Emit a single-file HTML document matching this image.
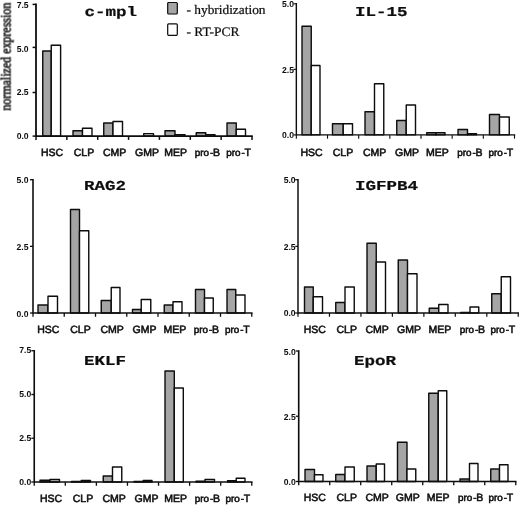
<!DOCTYPE html><html><head><meta charset="utf-8"><title>Figure</title>
<style>html,body{margin:0;padding:0;background:#fff}svg{display:block}text{text-rendering:geometricPrecision}.cat{font-family:"Liberation Sans",sans-serif;font-size:10.5px;fill:#0c0c0c;stroke:#0c0c0c;stroke-width:.55px}.tk{font-family:"Liberation Sans",sans-serif;font-size:8.6px;font-weight:bold;fill:#0c0c0c;text-anchor:end}.ti{font-family:"Liberation Mono",monospace;font-weight:bold;font-size:13.7px;fill:#0c0c0c;stroke:#0c0c0c;stroke-width:.2px}.lg{font-family:"Liberation Serif",serif;font-size:13px;fill:#0c0c0c;stroke:#0c0c0c;stroke-width:.22px}.ax{stroke:#0c0c0c;stroke-width:1.8;fill:none}.t{stroke:#0c0c0c;stroke-width:1.5;fill:none}.b{stroke:#0c0c0c;stroke-width:1.4;stroke-linejoin:round}</style></head><body>
<svg width="520" height="505" viewBox="0 0 520 505">
<defs><filter id="s" x="0" y="0" width="100%" height="100%" filterUnits="userSpaceOnUse"><feGaussianBlur stdDeviation="0.4"/></filter></defs>
<rect width="520" height="505" fill="#fff"/>
<g filter="url(#s)">
<g>
<rect class="b" x="42.75" y="51.00" width="8.50" height="85.10" fill="#a5a5a5"/>
<rect class="b" x="51.25" y="45.25" width="9.35" height="90.85" fill="#fff"/>
<rect class="b" x="73.00" y="130.75" width="9.50" height="5.35" fill="#a5a5a5"/>
<rect class="b" x="82.50" y="128.25" width="9.50" height="7.85" fill="#fff"/>
<rect class="b" x="103.75" y="123.00" width="9.25" height="13.10" fill="#a5a5a5"/>
<rect class="b" x="113.00" y="121.50" width="9.50" height="14.60" fill="#fff"/>
<rect class="b" x="143.75" y="133.60" width="9.75" height="2.50" fill="#cfcfcf"/>
<rect class="b" x="165.00" y="130.75" width="10.00" height="5.35" fill="#a5a5a5"/>
<rect class="b" x="175.00" y="134.60" width="10.00" height="1.50" fill="#cfcfcf"/>
<rect class="b" x="196.25" y="132.75" width="9.50" height="3.35" fill="#a5a5a5"/>
<rect class="b" x="205.75" y="134.60" width="9.25" height="1.50" fill="#cfcfcf"/>
<rect class="b" x="227.00" y="123.00" width="9.25" height="13.10" fill="#a5a5a5"/>
<rect class="b" x="236.25" y="129.25" width="9.25" height="6.85" fill="#fff"/>
<path class="ax" style="stroke-width:1.8" d="M36.00 3.60 V136.10 H252.75"/>
<path class="t" style="stroke-width:1.5" d="M32.60 4.40 H36.00"/>
<text class="tk" x="28.60" y="8.40">7.5</text>
<path class="t" style="stroke-width:1.5" d="M32.60 47.40 H36.00"/>
<text class="tk" x="28.60" y="51.50">5.0</text>
<path class="t" style="stroke-width:1.5" d="M32.60 92.50 H36.00"/>
<text class="tk" x="28.60" y="95.30">2.5</text>
<path class="t" style="stroke-width:1.5" d="M32.60 136.10 H36.00"/>
<text class="tk" x="28.60" y="138.70">0.0</text>
<path class="t" style="stroke-width:1.5" d="M36.00 136.10 V139.90"/>
<path class="t" style="stroke-width:1.5" d="M66.86 136.10 V139.90"/>
<path class="t" style="stroke-width:1.5" d="M97.71 136.10 V139.90"/>
<path class="t" style="stroke-width:1.5" d="M128.57 136.10 V139.90"/>
<path class="t" style="stroke-width:1.5" d="M159.43 136.10 V139.90"/>
<path class="t" style="stroke-width:1.5" d="M190.29 136.10 V139.90"/>
<path class="t" style="stroke-width:1.5" d="M221.14 136.10 V139.90"/>
<path class="t" style="stroke-width:1.5" d="M252.00 136.10 V139.90"/>
<text class="cat" x="40.95" y="155.50">HSC</text>
<text class="cat" x="73.75" y="155.50">CLP</text>
<text class="cat" x="102.99" y="155.50">CMP</text>
<text class="cat" x="135.05" y="155.50">GMP</text>
<text class="cat" x="164.24" y="155.50">MEP</text>
<text class="cat" x="194.80" y="155.50"><tspan font-size="9.9">pro</tspan><tspan font-size="9.9" dx="0.8">-</tspan><tspan dx="-0.3">B</tspan></text>
<text class="cat" x="226.30" y="155.50"><tspan font-size="9.9">pro</tspan><tspan font-size="9.9" dx="0.8">-</tspan><tspan dx="-0.3">T</tspan></text>
<text class="ti" x="84.60" y="15.60" textLength="52.5" lengthAdjust="spacingAndGlyphs">c-mpl</text>
</g>
<g>
<rect class="b" x="302.00" y="26.25" width="9.25" height="108.65" fill="#a5a5a5"/>
<rect class="b" x="311.25" y="65.50" width="8.75" height="69.40" fill="#fff"/>
<rect class="b" x="332.50" y="123.75" width="10.75" height="11.15" fill="#a5a5a5"/>
<rect class="b" x="343.25" y="123.75" width="9.25" height="11.15" fill="#fff"/>
<rect class="b" x="365.00" y="111.75" width="9.50" height="23.15" fill="#a5a5a5"/>
<rect class="b" x="374.50" y="83.75" width="9.25" height="51.15" fill="#fff"/>
<rect class="b" x="396.75" y="120.50" width="9.50" height="14.40" fill="#a5a5a5"/>
<rect class="b" x="406.25" y="105.00" width="9.25" height="29.90" fill="#fff"/>
<rect class="b" x="426.75" y="132.75" width="9.25" height="2.15" fill="#a5a5a5"/>
<rect class="b" x="436.00" y="132.75" width="9.00" height="2.15" fill="#cfcfcf"/>
<rect class="b" x="458.00" y="129.50" width="9.50" height="5.40" fill="#a5a5a5"/>
<rect class="b" x="467.50" y="133.75" width="9.00" height="1.15" fill="#cfcfcf"/>
<rect class="b" x="489.50" y="114.50" width="10.00" height="20.40" fill="#a5a5a5"/>
<rect class="b" x="499.50" y="117.00" width="9.75" height="17.90" fill="#fff"/>
<path class="ax" style="stroke-width:1.4" d="M296.35 3.10 V134.90 H515.25"/>
<path class="t" style="stroke-width:1.0999999999999999" d="M293.45 3.80 H296.35"/>
<text class="tk" x="294.00" y="7.40">5.0</text>
<path class="t" style="stroke-width:1.0999999999999999" d="M293.45 69.35 H296.35"/>
<text class="tk" x="294.00" y="73.05">2.5</text>
<path class="t" style="stroke-width:1.0999999999999999" d="M293.45 134.90 H296.35"/>
<text class="tk" x="294.00" y="138.00">0.0</text>
<path class="t" style="stroke-width:1.0999999999999999" d="M296.35 134.90 V138.70"/>
<path class="t" style="stroke-width:1.0999999999999999" d="M327.51 134.90 V138.70"/>
<path class="t" style="stroke-width:1.0999999999999999" d="M358.68 134.90 V138.70"/>
<path class="t" style="stroke-width:1.0999999999999999" d="M389.84 134.90 V138.70"/>
<path class="t" style="stroke-width:1.0999999999999999" d="M421.01 134.90 V138.70"/>
<path class="t" style="stroke-width:1.0999999999999999" d="M452.17 134.90 V138.70"/>
<path class="t" style="stroke-width:1.0999999999999999" d="M483.34 134.90 V138.70"/>
<path class="t" style="stroke-width:1.0999999999999999" d="M514.50 134.90 V138.70"/>
<text class="cat" x="300.45" y="155.70">HSC</text>
<text class="cat" x="332.75" y="155.70">CLP</text>
<text class="cat" x="362.99" y="155.70">CMP</text>
<text class="cat" x="395.05" y="155.70">GMP</text>
<text class="cat" x="425.99" y="155.70">MEP</text>
<text class="cat" x="457.30" y="155.70"><tspan font-size="9.9">pro</tspan><tspan font-size="9.9" dx="0.8">-</tspan><tspan dx="-0.3">B</tspan></text>
<text class="cat" x="488.55" y="155.70"><tspan font-size="9.9">pro</tspan><tspan font-size="9.9" dx="0.8">-</tspan><tspan dx="-0.3">T</tspan></text>
<text class="ti" x="355.00" y="16.20" textLength="52.5" lengthAdjust="spacingAndGlyphs">IL-15</text>
</g>
<g>
<rect class="b" x="38.00" y="305.00" width="10.00" height="8.00" fill="#a5a5a5"/>
<rect class="b" x="48.00" y="296.25" width="9.50" height="16.75" fill="#fff"/>
<rect class="b" x="70.50" y="209.50" width="9.00" height="103.50" fill="#a5a5a5"/>
<rect class="b" x="79.50" y="230.75" width="9.25" height="82.25" fill="#fff"/>
<rect class="b" x="101.25" y="300.50" width="10.00" height="12.50" fill="#a5a5a5"/>
<rect class="b" x="111.25" y="287.50" width="8.75" height="25.50" fill="#fff"/>
<rect class="b" x="132.50" y="309.50" width="8.75" height="3.50" fill="#a5a5a5"/>
<rect class="b" x="141.25" y="299.50" width="9.50" height="13.50" fill="#fff"/>
<rect class="b" x="164.25" y="305.00" width="8.75" height="8.00" fill="#a5a5a5"/>
<rect class="b" x="173.00" y="301.75" width="9.00" height="11.25" fill="#fff"/>
<rect class="b" x="195.50" y="289.50" width="9.00" height="23.50" fill="#a5a5a5"/>
<rect class="b" x="204.50" y="298.00" width="8.75" height="15.00" fill="#fff"/>
<rect class="b" x="227.00" y="289.50" width="8.75" height="23.50" fill="#a5a5a5"/>
<rect class="b" x="235.75" y="295.00" width="9.25" height="18.00" fill="#fff"/>
<path class="ax" style="stroke-width:1.6" d="M33.00 179.00 V313.00 H252.50"/>
<path class="t" style="stroke-width:1.3" d="M30.00 179.70 H33.00"/>
<text class="tk" x="28.50" y="182.60">5.0</text>
<path class="t" style="stroke-width:1.3" d="M30.00 246.35 H33.00"/>
<text class="tk" x="28.50" y="249.75">2.5</text>
<path class="t" style="stroke-width:1.3" d="M30.00 313.00 H33.00"/>
<text class="tk" x="28.50" y="316.60">0.0</text>
<path class="t" style="stroke-width:1.3" d="M33.00 313.00 V316.80"/>
<path class="t" style="stroke-width:1.3" d="M64.25 313.00 V316.80"/>
<path class="t" style="stroke-width:1.3" d="M95.50 313.00 V316.80"/>
<path class="t" style="stroke-width:1.3" d="M126.75 313.00 V316.80"/>
<path class="t" style="stroke-width:1.3" d="M158.00 313.00 V316.80"/>
<path class="t" style="stroke-width:1.3" d="M189.25 313.00 V316.80"/>
<path class="t" style="stroke-width:1.3" d="M220.50 313.00 V316.80"/>
<path class="t" style="stroke-width:1.3" d="M251.75 313.00 V316.80"/>
<text class="cat" x="37.20" y="333.40">HSC</text>
<text class="cat" x="70.25" y="333.40">CLP</text>
<text class="cat" x="100.49" y="333.40">CMP</text>
<text class="cat" x="132.55" y="333.40">GMP</text>
<text class="cat" x="163.49" y="333.40">MEP</text>
<text class="cat" x="193.80" y="333.40"><tspan font-size="9.9">pro</tspan><tspan font-size="9.9" dx="0.8">-</tspan><tspan dx="-0.3">B</tspan></text>
<text class="cat" x="225.05" y="333.40"><tspan font-size="9.9">pro</tspan><tspan font-size="9.9" dx="0.8">-</tspan><tspan dx="-0.3">T</tspan></text>
<text class="ti" x="84.00" y="189.60" textLength="42.0" lengthAdjust="spacingAndGlyphs">RAG2</text>
</g>
<g>
<rect class="b" x="304.50" y="287.00" width="8.75" height="26.00" fill="#a5a5a5"/>
<rect class="b" x="313.25" y="296.75" width="9.25" height="16.25" fill="#fff"/>
<rect class="b" x="335.75" y="302.50" width="9.25" height="10.50" fill="#a5a5a5"/>
<rect class="b" x="345.00" y="287.00" width="9.25" height="26.00" fill="#fff"/>
<rect class="b" x="367.00" y="243.25" width="9.25" height="69.75" fill="#a5a5a5"/>
<rect class="b" x="376.25" y="262.00" width="9.25" height="51.00" fill="#fff"/>
<rect class="b" x="398.25" y="260.00" width="9.25" height="53.00" fill="#a5a5a5"/>
<rect class="b" x="407.50" y="273.75" width="9.50" height="39.25" fill="#fff"/>
<rect class="b" x="429.25" y="308.25" width="9.50" height="4.75" fill="#a5a5a5"/>
<rect class="b" x="438.75" y="304.50" width="9.25" height="8.50" fill="#fff"/>
<rect class="b" x="460.75" y="312.40" width="9.25" height="0.60" fill="#a5a5a5"/>
<rect class="b" x="470.00" y="307.00" width="8.75" height="6.00" fill="#fff"/>
<rect class="b" x="491.75" y="293.75" width="9.50" height="19.25" fill="#a5a5a5"/>
<rect class="b" x="501.25" y="276.75" width="9.25" height="36.25" fill="#fff"/>
<path class="ax" style="stroke-width:1.5" d="M298.00 179.00 V313.00 H519.00"/>
<path class="t" style="stroke-width:1.2" d="M295.20 179.70 H298.00"/>
<text class="tk" x="295.60" y="182.50">5.0</text>
<path class="t" style="stroke-width:1.2" d="M295.20 246.35 H298.00"/>
<text class="tk" x="295.60" y="249.75">2.5</text>
<path class="t" style="stroke-width:1.2" d="M295.20 313.00 H298.00"/>
<text class="tk" x="295.60" y="316.40">0.0</text>
<path class="t" style="stroke-width:1.2" d="M298.00 313.00 V316.80"/>
<path class="t" style="stroke-width:1.2" d="M329.46 313.00 V316.80"/>
<path class="t" style="stroke-width:1.2" d="M360.93 313.00 V316.80"/>
<path class="t" style="stroke-width:1.2" d="M392.39 313.00 V316.80"/>
<path class="t" style="stroke-width:1.2" d="M423.86 313.00 V316.80"/>
<path class="t" style="stroke-width:1.2" d="M455.32 313.00 V316.80"/>
<path class="t" style="stroke-width:1.2" d="M486.79 313.00 V316.80"/>
<path class="t" style="stroke-width:1.2" d="M518.25 313.00 V316.80"/>
<text class="cat" x="303.70" y="333.40">HSC</text>
<text class="cat" x="336.50" y="333.40">CLP</text>
<text class="cat" x="365.49" y="333.40">CMP</text>
<text class="cat" x="397.05" y="333.40">GMP</text>
<text class="cat" x="428.49" y="333.40">MEP</text>
<text class="cat" x="459.80" y="333.40"><tspan font-size="9.9">pro</tspan><tspan font-size="9.9" dx="0.8">-</tspan><tspan dx="-0.3">B</tspan></text>
<text class="cat" x="490.55" y="333.40"><tspan font-size="9.9">pro</tspan><tspan font-size="9.9" dx="0.8">-</tspan><tspan dx="-0.3">T</tspan></text>
<text class="ti" x="355.00" y="189.60" textLength="63.0" lengthAdjust="spacingAndGlyphs">IGFPB4</text>
</g>
<g>
<rect class="b" x="40.00" y="480.25" width="10.00" height="1.75" fill="#a5a5a5"/>
<rect class="b" x="50.00" y="479.50" width="9.50" height="2.50" fill="#cfcfcf"/>
<rect class="b" x="71.50" y="481.40" width="9.75" height="0.60" fill="#a5a5a5"/>
<rect class="b" x="81.25" y="480.50" width="9.25" height="1.50" fill="#cfcfcf"/>
<rect class="b" x="103.25" y="476.00" width="9.25" height="6.00" fill="#a5a5a5"/>
<rect class="b" x="112.50" y="467.00" width="9.25" height="15.00" fill="#fff"/>
<rect class="b" x="134.00" y="481.40" width="9.25" height="0.60" fill="#a5a5a5"/>
<rect class="b" x="143.25" y="480.50" width="8.75" height="1.50" fill="#cfcfcf"/>
<rect class="b" x="165.00" y="371.00" width="9.30" height="111.00" fill="#a5a5a5"/>
<rect class="b" x="174.30" y="388.00" width="9.00" height="94.00" fill="#fff"/>
<rect class="b" x="196.00" y="481.20" width="9.00" height="0.80" fill="#a5a5a5"/>
<rect class="b" x="205.00" y="479.50" width="9.50" height="2.50" fill="#cfcfcf"/>
<rect class="b" x="227.50" y="480.75" width="8.75" height="1.25" fill="#a5a5a5"/>
<rect class="b" x="236.25" y="478.25" width="8.75" height="3.75" fill="#fff"/>
<path class="ax" style="stroke-width:1.6" d="M34.25 350.05 V482.00 H252.50"/>
<path class="t" style="stroke-width:1.3" d="M31.35 350.75 H34.25"/>
<text class="tk" x="31.30" y="352.85">7.5</text>
<path class="t" style="stroke-width:1.3" d="M31.35 394.50 H34.25"/>
<text class="tk" x="31.30" y="397.20">5.0</text>
<path class="t" style="stroke-width:1.3" d="M31.35 438.25 H34.25"/>
<text class="tk" x="31.30" y="441.05">2.5</text>
<path class="t" style="stroke-width:1.3" d="M31.35 482.00 H34.25"/>
<text class="tk" x="31.30" y="484.70">0.0</text>
<path class="t" style="stroke-width:1.3" d="M34.25 482.00 V485.80"/>
<path class="t" style="stroke-width:1.3" d="M65.32 482.00 V485.80"/>
<path class="t" style="stroke-width:1.3" d="M96.39 482.00 V485.80"/>
<path class="t" style="stroke-width:1.3" d="M127.46 482.00 V485.80"/>
<path class="t" style="stroke-width:1.3" d="M158.54 482.00 V485.80"/>
<path class="t" style="stroke-width:1.3" d="M189.61 482.00 V485.80"/>
<path class="t" style="stroke-width:1.3" d="M220.68 482.00 V485.80"/>
<path class="t" style="stroke-width:1.3" d="M251.75 482.00 V485.80"/>
<text class="cat" x="39.95" y="501.60">HSC</text>
<text class="cat" x="72.75" y="501.60">CLP</text>
<text class="cat" x="102.49" y="501.60">CMP</text>
<text class="cat" x="134.55" y="501.60">GMP</text>
<text class="cat" x="164.24" y="501.60">MEP</text>
<text class="cat" x="194.80" y="501.60"><tspan font-size="9.9">pro</tspan><tspan font-size="9.9" dx="0.8">-</tspan><tspan dx="-0.3">B</tspan></text>
<text class="cat" x="225.55" y="501.60"><tspan font-size="9.9">pro</tspan><tspan font-size="9.9" dx="0.8">-</tspan><tspan dx="-0.3">T</tspan></text>
<text class="ti" x="84.00" y="365.00" textLength="42.0" lengthAdjust="spacingAndGlyphs">EKLF</text>
</g>
<g>
<rect class="b" x="305.00" y="469.50" width="9.50" height="12.00" fill="#a5a5a5"/>
<rect class="b" x="314.50" y="474.75" width="8.50" height="6.75" fill="#fff"/>
<rect class="b" x="335.75" y="474.50" width="9.25" height="7.00" fill="#a5a5a5"/>
<rect class="b" x="345.00" y="467.00" width="9.25" height="14.50" fill="#fff"/>
<rect class="b" x="367.00" y="466.00" width="9.25" height="15.50" fill="#a5a5a5"/>
<rect class="b" x="376.25" y="464.00" width="8.25" height="17.50" fill="#fff"/>
<rect class="b" x="397.50" y="442.25" width="9.50" height="39.25" fill="#a5a5a5"/>
<rect class="b" x="407.00" y="469.00" width="8.75" height="12.50" fill="#fff"/>
<rect class="b" x="428.75" y="393.25" width="9.50" height="88.25" fill="#a5a5a5"/>
<rect class="b" x="438.25" y="390.75" width="8.50" height="90.75" fill="#fff"/>
<rect class="b" x="460.00" y="479.00" width="9.50" height="2.50" fill="#a5a5a5"/>
<rect class="b" x="469.50" y="463.50" width="8.50" height="18.00" fill="#fff"/>
<rect class="b" x="490.75" y="469.00" width="8.75" height="12.50" fill="#a5a5a5"/>
<rect class="b" x="499.50" y="464.75" width="8.50" height="16.75" fill="#fff"/>
<path class="ax" style="stroke-width:1.6" d="M298.70 350.30 V481.50 H516.50"/>
<path class="t" style="stroke-width:1.3" d="M295.80 351.00 H298.70"/>
<text class="tk" x="295.70" y="355.00">5.0</text>
<path class="t" style="stroke-width:1.3" d="M295.80 416.25 H298.70"/>
<text class="tk" x="295.70" y="419.75">2.5</text>
<path class="t" style="stroke-width:1.3" d="M295.80 481.50 H298.70"/>
<text class="tk" x="295.70" y="484.80">0.0</text>
<path class="t" style="stroke-width:1.3" d="M298.70 481.50 V485.30"/>
<path class="t" style="stroke-width:1.3" d="M329.71 481.50 V485.30"/>
<path class="t" style="stroke-width:1.3" d="M360.71 481.50 V485.30"/>
<path class="t" style="stroke-width:1.3" d="M391.72 481.50 V485.30"/>
<path class="t" style="stroke-width:1.3" d="M422.73 481.50 V485.30"/>
<path class="t" style="stroke-width:1.3" d="M453.74 481.50 V485.30"/>
<path class="t" style="stroke-width:1.3" d="M484.74 481.50 V485.30"/>
<path class="t" style="stroke-width:1.3" d="M515.75 481.50 V485.30"/>
<text class="cat" x="303.70" y="501.00">HSC</text>
<text class="cat" x="336.50" y="501.00">CLP</text>
<text class="cat" x="365.49" y="501.00">CMP</text>
<text class="cat" x="395.80" y="501.00">GMP</text>
<text class="cat" x="426.74" y="501.00">MEP</text>
<text class="cat" x="458.05" y="501.00"><tspan font-size="9.9">pro</tspan><tspan font-size="9.9" dx="0.8">-</tspan><tspan dx="-0.3">B</tspan></text>
<text class="cat" x="488.55" y="501.00"><tspan font-size="9.9">pro</tspan><tspan font-size="9.9" dx="0.8">-</tspan><tspan dx="-0.3">T</tspan></text>
<text class="ti" x="354.00" y="365.00" textLength="42.0" lengthAdjust="spacingAndGlyphs">EpoR</text>
</g>
<rect x="167.7" y="2.5" width="9.6" height="11.5" rx="1" fill="#a5a5a5" stroke="#0c0c0c" stroke-width="1.2"/>
<rect x="167.7" y="23.8" width="9.6" height="11.5" rx="1" fill="#fff" stroke="#0c0c0c" stroke-width="1.2"/>
<text class="lg" x="186.5" y="13.5" textLength="79" lengthAdjust="spacingAndGlyphs">- hybridization</text>
<text class="lg" x="186.5" y="36.3" textLength="53" lengthAdjust="spacingAndGlyphs">- RT-PCR</text>
<text class="lg" style="font-size:14.3px;stroke:#0c0c0c;stroke-width:.55px" transform="translate(10.5,110.6) rotate(-90)" textLength="108" lengthAdjust="spacingAndGlyphs">normalized expression</text>
</g></svg></body></html>
